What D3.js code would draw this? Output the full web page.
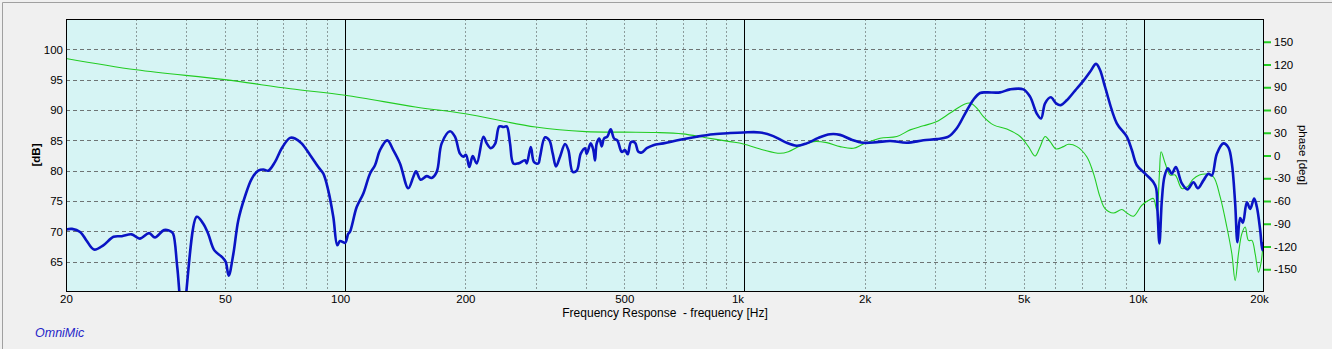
<!DOCTYPE html>
<html>
<head>
<meta charset="utf-8">
<script src="https://cdn.jsdelivr.net/npm/d3@7/dist/d3.min.js"></script>
<style>
  html, body { margin: 0; padding: 0; background: #f0f0f0; }
  svg { display: block; }
  text { font-family: "Liberation Sans", Arial, sans-serif; }
</style>
</head>
<body>
<svg id="chart" width="1332" height="349"></svg>
<script>
// Magnitude response (blue): frequency [Hz] and level [dB]
const splFreq = [20.0, 20.7, 21.7, 22.5, 23.5, 24.8, 26.3, 27.6, 29.2, 30.6, 32.3, 33.4, 35.2, 36.6, 37.1,
  38.0, 39.2, 42.5, 44.1, 45.4, 47.0, 49.1, 50.2, 51.1, 52.5, 54.0, 56.1, 58.4, 60.6, 62.4, 64.2, 66.7,
  69.4, 72.8, 74.9, 77.8, 81.7, 85.7, 88.2, 90.7, 93.4, 95.6, 97.1, 100, 101.8, 102.8, 106.9, 111.0,
  115.4, 118.8, 122.3, 127.5, 132.0, 137.2, 143.9, 148.2, 150.5, 154.6, 160.1, 164.7, 169.6, 174.5,
  183.1, 188.4, 193.9, 197.7, 200.8, 204.7, 208.7, 213.6, 221.9, 226.3, 231.6, 237.4, 243.3, 249.0,
  253.9, 258.8, 263.8, 271.5, 282.2, 285.0, 291.7, 297.3, 304.7, 307.7, 316.7, 324.6, 331.1, 337.4,
  345.3, 355.4, 362.2, 371.5, 380.2, 389.1, 398.8, 402.7, 412.1, 418.4, 422.5, 426.6, 433.1, 439.1,
  445.0, 453.5, 462.5, 471.4, 480.4, 492.8, 502.2, 510.1, 519.9, 532.1, 542.4, 553.1, 569.3, 591.4,
  626.5, 689.8, 759.4, 835.8, 920.3, 993.8, 1094, 1181, 1264, 1352, 1432, 1531, 1638, 1735, 1856,
  1985, 2145, 2316, 2550, 2806, 3032, 3241, 3402, 3569, 3744, 3891, 4044, 4367, 4626, 4994, 5190,
  5395, 5531, 5660, 5849, 6030, 6195, 6413, 6728, 7058, 7336, 7594, 7770, 7998, 8558, 9068, 9334,
  9608, 10078, 10571, 10738, 10830, 10944, 11097, 11265, 11488, 11756, 12030, 12454, 12864, 13316,
  13658, 14106, 14519, 14806, 15239, 15830, 16293, 16616, 16936, 17162, 17431, 17705, 18119, 18468,
  18897, 19194, 19564, 19820, 20000];
const splDb = [70.3, 70.4, 69.9, 68.5, 67.0, 67.7, 69.1, 69.2, 69.5, 68.8, 69.7, 69.0, 70.2, 70.0, 69.6,
  64.0, 56.0, 72.4, 71.3, 69.6, 66.9, 65.8, 65.0, 62.7, 66.3, 71.8, 75.7, 78.7, 80.0, 80.2, 80.0, 81.4,
  83.7, 85.4, 85.3, 84.5, 82.6, 80.6, 79.5, 76.8, 72.4, 67.7, 68.4, 68.1, 69.6, 69.9, 74.0, 76.2,
  79.5, 80.9, 83.4, 85.0, 83.4, 81.2, 77.1, 79.0, 79.9, 78.5, 79.1, 78.8, 79.8, 84.5,
  86.5, 85.6, 82.8, 82.3, 82.6, 80.6, 82.4, 81.2, 85.6, 84.5, 83.7, 84.4, 87.3, 87.2,
  87.3, 84.5, 81.2, 81.2, 81.7, 81.2, 83.9, 81.4, 81.2, 82.3, 85.5, 85.0, 82.8, 80.7,
  82.3, 84.4, 83.4, 79.8, 80.0, 82.8, 83.7, 82.8, 84.5, 83.4, 81.7, 84.5, 85.3, 84.0,
  85.3, 85.6, 86.8, 85.3, 85.0, 83.1, 83.4, 82.7, 84.7, 84.6, 83.1, 83.0, 83.7, 84.2,
  84.5, 85.1, 85.6, 86.0, 86.2, 86.3, 86.3, 85.7, 84.7, 84.1, 84.5, 85.4, 86.0, 85.9, 85.1,
  84.6, 84.7, 84.9, 84.6, 85.0, 85.2, 85.6, 87.0, 89.4, 91.7, 92.8, 92.9, 92.9, 93.4, 93.4, 92.2,
  89.4, 88.6, 91.1, 92.1, 91.1, 90.8, 91.6, 93.2, 94.8, 96.3, 97.6, 96.6, 93.8, 87.8, 85.6, 83.4,
  80.9, 79.5, 78.1, 77.1, 73.0, 68.0, 75.1, 79.0, 80.4, 79.5, 80.6, 77.9, 76.9, 78.1,
  77.1, 78.4, 79.5, 79.2, 82.8, 84.5, 83.8, 81.2, 74.6, 68.2, 72.2, 71.4, 74.8, 73.7,
  75.4, 74.0, 70.2, 66.9, 68.2];

// Phase response (green): frequency [Hz] and phase [deg]
const phaseFreq = [20, 30, 50, 73, 100, 150, 200, 300, 400, 500, 600, 700, 800, 920, 994, 1115, 1228,
  1288, 1378, 1488, 1607, 1736, 1874, 1986, 2186, 2407, 2600, 2806, 3032, 3273, 3535, 3673, 3819,
  3966, 4202, 4540, 4902, 5142, 5344, 5501, 5661, 5828, 6033, 6292, 6476, 6798, 7198, 7481, 7770,
  7998, 8390, 8808, 9068, 9420, 9888, 10372, 10571, 10781, 10944, 11052, 11310, 11641, 11982, 12454,
  12864, 13270, 13784, 14385, 14943, 15532, 16144, 16616, 16936, 17262, 17604, 17942, 18286, 18648,
  19006, 19372, 19642, 19931];
const phaseDeg = [128, 113, 100, 88, 79.5, 64, 55, 37.5, 31.5, 30.8, 30.3, 28.5, 23.5, 18.3, 15.2, 7.3, 2.9,
  5.0, 12.6, 18.3, 17.0, 11.7, 9.5, 15.2, 22.8, 25, 33.8, 39.1, 44.8, 56, 66.9, 69.2, 62.5,
  51.4, 40.4, 34.8, 25, 11.7, -0.7, 11.7, 25, 18.3, 8.6, 11.7, 14.8, 11.7, -1.6, -23.6, -54.6,
  -70, -75.8, -71.3, -75.8, -80, -65.6, -58, -56.7, -72, -23.6, 5, -10.3, -25.8, -25.8, -43.5,
  -41.3, -31.5, -25.8, -24.5, -28.1, -54.6, -94.3, -129.6, -165, -129.6, -103, -94.3, -112, -112,
  -129.6, -154, -142.8, -112];

// Axis ticks
const freqTicks = [20, 50, 100, 200, 500, 1000, 2000, 5000, 10000, 20000];
const freqTickLabels = ["20", "50", "100", "200", "500", "1k", "2k", "5k", "10k", "20k"];
const minorFreqLines = [30, 40, 50, 60, 70, 80, 90, 200, 300, 400, 500, 600, 700, 800, 900,
  2000, 3000, 4000, 5000, 6000, 7000, 8000, 9000];
const decadeLines = [100, 1000, 10000];
const dbTicks = [65, 70, 75, 80, 85, 90, 95, 100];
const phaseTicks = [-150, -120, -90, -60, -30, 0, 30, 60, 90, 120, 150];

const svg = d3.select("#chart");
const W = 1332, H = 349;
const plot = { left: 66, right: 1264, top: 19, bottom: 292 };

// window frame
svg.append("rect").attr("width", W).attr("height", H).attr("fill", "#f0f0f0");
svg.append("path").attr("d", `M2.5,${H} V2.5 H${W}`).attr("fill", "none").attr("stroke", "#a0a0a0");

const x = d3.scaleLog().domain([20, 20000]).range([plot.left, plot.right]);
const y = d3.scaleLinear().domain([60, 105]).range([plot.bottom, plot.top]);
const yPhase = d3.scaleLinear().domain([-180, 180]).range([plot.bottom, plot.top]);

svg.append("rect")
  .attr("x", plot.left).attr("y", plot.top)
  .attr("width", plot.right - plot.left).attr("height", plot.bottom - plot.top)
  .attr("fill", "#d6f4f4");

const grid = svg.append("g");
// minor vertical lines
grid.selectAll("line.minor").data(minorFreqLines).join("line")
  .attr("x1", d => Math.round(x(d)) + 0.5).attr("x2", d => Math.round(x(d)) + 0.5)
  .attr("y1", plot.top).attr("y2", plot.bottom)
  .attr("stroke", "#8c9c9c").attr("stroke-width", 1).attr("stroke-dasharray", "2,2");
// horizontal dB grid
grid.selectAll("line.h").data(dbTicks).join("line")
  .attr("x1", plot.left).attr("x2", plot.right)
  .attr("y1", d => Math.round(y(d)) + 0.5).attr("y2", d => Math.round(y(d)) + 0.5)
  .attr("stroke", "#6e7474").attr("stroke-width", 1).attr("stroke-dasharray", "4,3");
// decade lines
grid.selectAll("line.decade").data(decadeLines).join("line")
  .attr("x1", d => Math.round(x(d)) + 0.5).attr("x2", d => Math.round(x(d)) + 0.5)
  .attr("y1", plot.top).attr("y2", plot.bottom)
  .attr("stroke", "#000").attr("stroke-width", 1);

// curves
svg.append("clipPath").attr("id", "clip").append("rect")
  .attr("x", plot.left).attr("y", plot.top)
  .attr("width", plot.right - plot.left).attr("height", plot.bottom - plot.top);

const phaseLine = d3.line()
  .x((d, i) => x(phaseFreq[i]))
  .y(d => yPhase(d))
  .curve(d3.curveCatmullRom.alpha(0.5));
svg.append("path").datum(phaseDeg)
  .attr("clip-path", "url(#clip)")
  .attr("d", phaseLine)
  .attr("fill", "none").attr("stroke", "#22cc22").attr("stroke-width", 1.1);

const splLine = d3.line()
  .x((d, i) => x(splFreq[i]))
  .y(d => y(d))
  .curve(d3.curveCatmullRom.alpha(0.5));
svg.append("path").datum(splDb)
  .attr("clip-path", "url(#clip)")
  .attr("d", splLine)
  .attr("fill", "none").attr("stroke", "#0a14c4").attr("stroke-width", 2.6)
  .attr("stroke-linejoin", "round");

// plot frame
svg.append("rect")
  .attr("x", plot.left + 0.5).attr("y", plot.top + 0.5)
  .attr("width", plot.right - plot.left - 1).attr("height", plot.bottom - plot.top - 1)
  .attr("fill", "none").attr("stroke", "#000");

// left axis (dB)
const leftAxis = d3.axisLeft(y).tickValues(dbTicks).tickSize(0).tickPadding(3);
const gl = svg.append("g").attr("transform", `translate(${plot.left},0)`).call(leftAxis);
gl.select(".domain").remove();
gl.selectAll("text").attr("font-size", "11.5px").attr("fill", "#000")
  .style("font-family", "'Liberation Sans', Arial, sans-serif");

// bottom axis (frequency)
const labelShift = { 100: -5, 1000: -7, 10000: -6, 20000: -5 };
const bottomAxis = d3.axisBottom(x).tickValues(freqTicks).tickSize(0).tickPadding(3)
  .tickFormat((d, i) => freqTickLabels[i]);
const gb = svg.append("g").attr("transform", `translate(0,${plot.bottom})`).call(bottomAxis);
gb.select(".domain").remove();
gb.selectAll("text").attr("font-size", "11.5px").attr("fill", "#000")
  .attr("dx", d => labelShift[d] || 0)
  .style("font-family", "'Liberation Sans', Arial, sans-serif");

// right axis (phase)
const rightAxis = d3.axisRight(yPhase).tickValues(phaseTicks).tickSize(7).tickPadding(3)
  .tickFormat(d => String(d).replace("-", "-"));
const gr = svg.append("g").attr("transform", `translate(${plot.right},0)`).call(rightAxis);
gr.select(".domain").remove();
gr.selectAll(".tick line").attr("stroke", "#22cc22").attr("stroke-width", 2);
gr.selectAll("text").attr("font-size", "11.5px").attr("fill", "#000")
  .style("font-family", "'Liberation Sans', Arial, sans-serif");

// axis titles
svg.append("text")
  .attr("transform", `translate(40,155) rotate(-90)`)
  .attr("text-anchor", "middle")
  .attr("font-size", "11.5px").attr("font-weight", "bold")
  .text("[dB]");
svg.append("text")
  .attr("transform", `translate(1299,155) rotate(90)`)
  .attr("text-anchor", "middle")
  .attr("font-size", "11.5px")
  .text("phase [deg]");
svg.append("text")
  .attr("x", 665).attr("y", 317)
  .attr("text-anchor", "middle")
  .attr("font-size", "12px")
  .attr("xml:space", "preserve")
  .style("white-space", "pre")
  .text("Frequency Response  - frequency [Hz]");
svg.append("text")
  .attr("x", 35).attr("y", 337)
  .attr("font-size", "12.5px").attr("font-style", "italic")
  .attr("fill", "#2626c8")
  .text("OmniMic");
</script>
</body>
</html>
